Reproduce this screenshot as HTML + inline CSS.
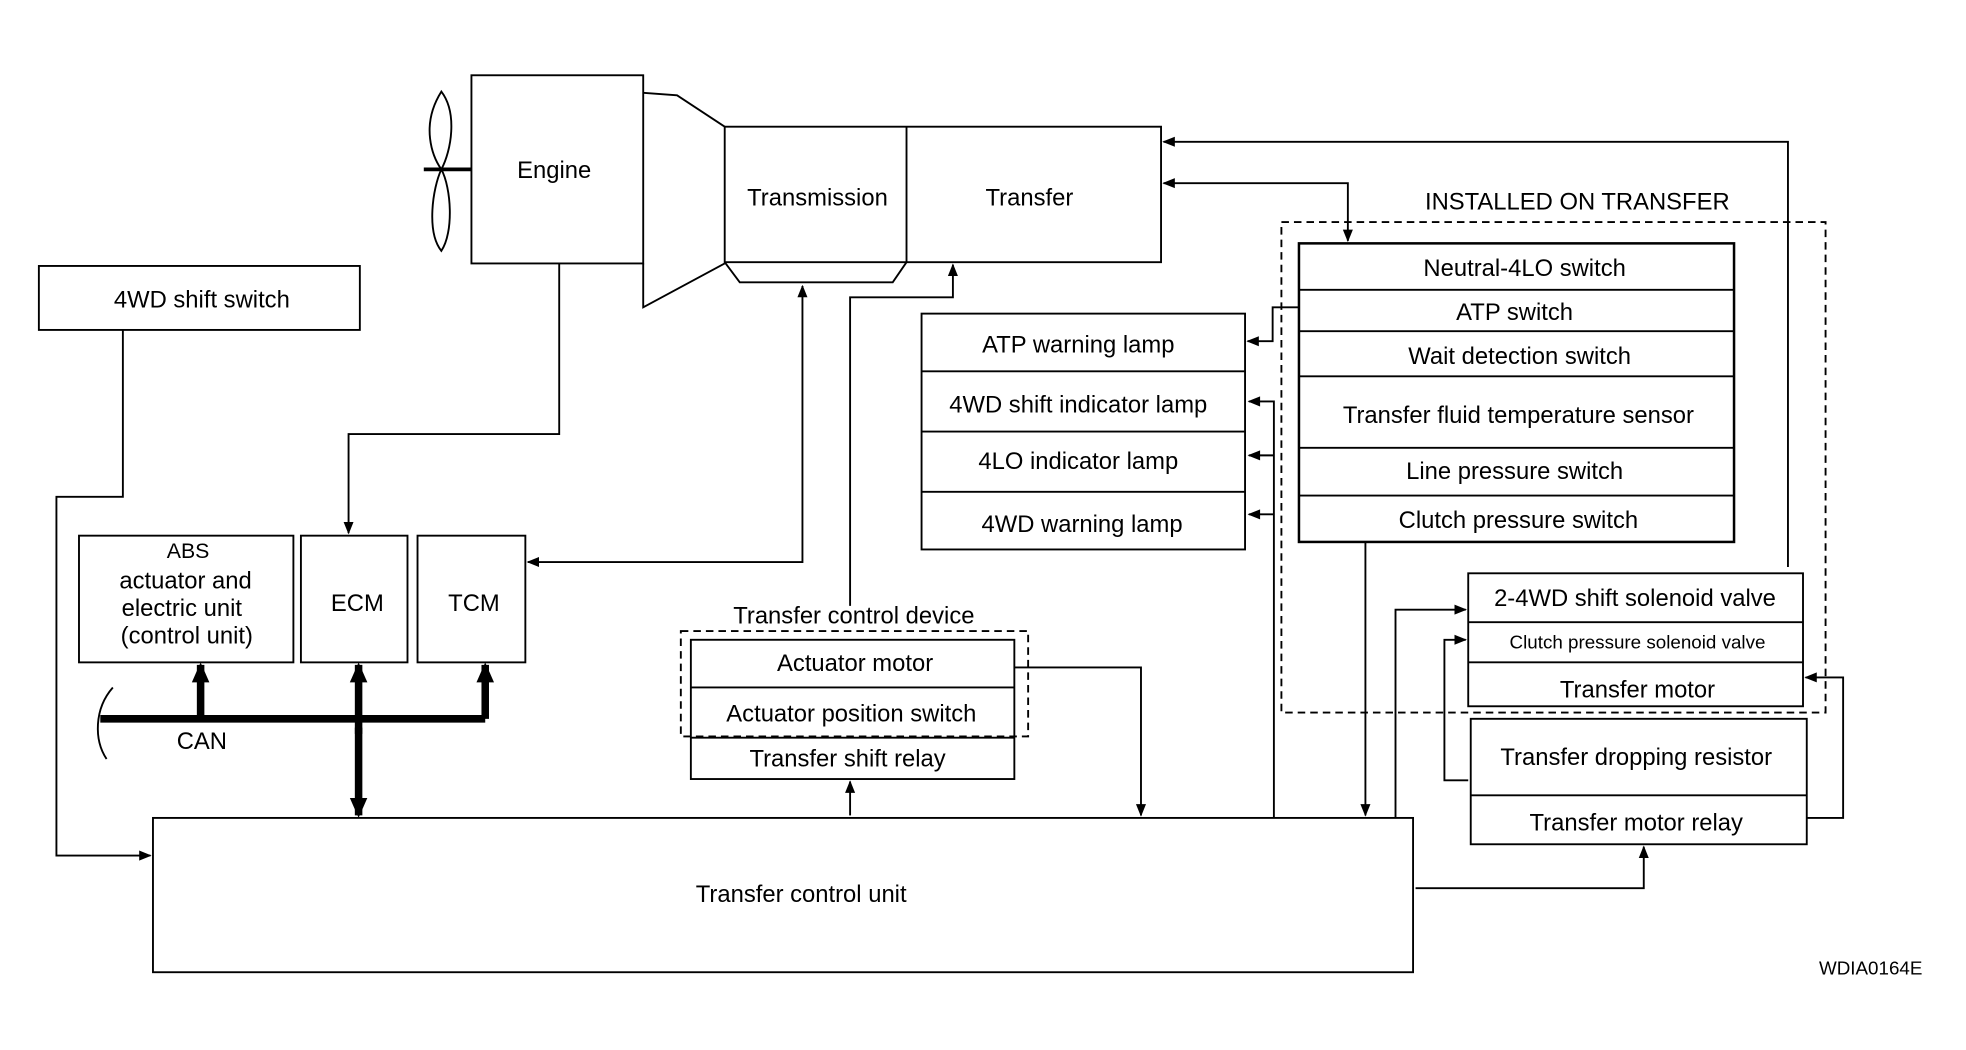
<!DOCTYPE html>
<html><head><style>html,body{margin:0;padding:0;background:#fff}svg{display:block}</style></head>
<body>
<svg width="1966" height="1050" viewBox="0 0 1568 837" preserveAspectRatio="none" xmlns="http://www.w3.org/2000/svg" font-family="Liberation Sans, sans-serif" font-size="19" fill="none" stroke="#000" stroke-width="1.5">
<defs>
<marker id="a" markerWidth="10" markerHeight="10" refX="9" refY="5" orient="auto-start-reverse" markerUnits="userSpaceOnUse"><path d="M0,1 L10,5 L0,9z" fill="#000" stroke="none"/></marker>
<marker id="b" markerWidth="16" markerHeight="16" refX="14" refY="8" orient="auto-start-reverse" markerUnits="userSpaceOnUse"><path d="M0,1 L16,8 L0,15z" fill="#000" stroke="none"/></marker>
</defs>
<rect x="376" y="60" width="137" height="150"/>
<path d="M352,73 C335,100 345,125 352,135 C345,150 340,185 352,200 C362,185 360,150 352,135 C360,120 365,90 352,73z"/>
<line x1="338" y1="135" x2="376" y2="135" stroke-width="3"/>
<path d="M513,74 L540,76 L578,101 M513,210 V245 L578,210"/>
<rect x="578" y="101" width="348" height="108"/>
<line x1="723" y1="101" x2="723" y2="209"/>
<path d="M578,209 L590,225 H712 L723,209"/>
<rect x="31" y="212" width="256" height="51"/>
<rect x="63" y="427" width="171" height="101"/>
<rect x="240" y="427" width="85" height="101"/>
<rect x="333" y="427" width="86" height="101"/>
<rect x="735" y="250" width="258" height="188"/>
<line x1="735" y1="296" x2="993" y2="296"/><line x1="735" y1="344" x2="993" y2="344"/><line x1="735" y1="392" x2="993" y2="392"/>
<rect x="1036" y="194" width="347" height="238" stroke-width="2"/>
<line x1="1036" y1="231" x2="1383" y2="231"/><line x1="1036" y1="264" x2="1383" y2="264"/><line x1="1036" y1="300" x2="1383" y2="300"/><line x1="1036" y1="357" x2="1383" y2="357"/><line x1="1036" y1="395" x2="1383" y2="395"/>
<rect x="1022" y="177" width="434" height="391" stroke-dasharray="6,4"/>
<rect x="1171" y="457" width="267" height="106"/>
<line x1="1171" y1="496" x2="1438" y2="496"/><line x1="1171" y1="528" x2="1438" y2="528"/>
<rect x="1173" y="573" width="268" height="100"/>
<line x1="1173" y1="634" x2="1441" y2="634"/>
<rect x="551" y="510" width="258" height="111"/>
<line x1="551" y1="548" x2="809" y2="548"/><line x1="551" y1="588" x2="809" y2="588"/>
<rect x="543" y="503" width="277" height="84" stroke-dasharray="6,4"/>
<rect x="122" y="652" width="1005" height="123"/>
<path d="M98,263 V396 H45 V682 H120" marker-end="url(#a)"/>
<path d="M446,210 V346 H278 V425" marker-end="url(#a)"/>
<path d="M640,228 V448 H421" marker-start="url(#a)" marker-end="url(#a)"/>
<path d="M678,483 V237 H760 V211" marker-end="url(#a)"/>
<path d="M678,650 V623" marker-end="url(#a)"/>
<path d="M809,532 H910 V650" marker-end="url(#a)"/>
<path d="M1426,452 V113 H928" marker-end="url(#a)"/>
<path d="M928,146 H1075 V192" marker-start="url(#a)" marker-end="url(#a)"/>
<path d="M1036,245 H1015 V272 H995" marker-end="url(#a)"/>
<path d="M1016,652 V320 H996 M1016,363 H996 M1016,410 H996"/>
<g fill="#000" stroke="none">
<path d="M995,320 L1005,316 L1005,324z"/>
<path d="M995,363 L1005,359 L1005,367z"/>
<path d="M995,410 L1005,406 L1005,414z"/>
</g>
<path d="M1089,432 V650" marker-end="url(#a)"/>
<path d="M1113,652 V486 H1169" marker-end="url(#a)"/>
<path d="M1171,622 H1152 V510 H1169" marker-end="url(#a)"/>
<path d="M1441,652 H1470 V540 H1440" marker-end="url(#a)"/>
<path d="M1129,708 H1311 V675" marker-end="url(#a)"/>
<path d="M80,573 H387" stroke-width="6"/>
<path d="M160,573 V530" stroke-width="6" marker-end="url(#b)"/>
<path d="M387,573 V530" stroke-width="6" marker-end="url(#b)"/>
<path d="M286,585 V530" stroke-width="6" marker-end="url(#b)"/>
<path d="M286,580 V650" stroke-width="6" marker-end="url(#b)"/>
<path d="M90,548 C75,565 75,590 85,605"/>
<g fill="#000" stroke="none" text-anchor="middle">
<text x="442" y="142">Engine</text>
<text x="652" y="164">Transmission</text>
<text x="821" y="164">Transfer</text>
<text x="161" y="245">4WD shift switch</text>
<text x="150" y="445" font-size="17">ABS</text>
<text x="148" y="469">actuator and</text>
<text x="145" y="491">electric unit</text>
<text x="149" y="513">(control unit)</text>
<text x="285" y="487">ECM</text>
<text x="378" y="487">TCM</text>
<text x="161" y="597">CAN</text>
<text x="860" y="281">ATP warning lamp</text>
<text x="860" y="329">4WD shift indicator lamp</text>
<text x="860" y="374">4LO indicator lamp</text>
<text x="863" y="424">4WD warning lamp</text>
<text x="1258" y="167">INSTALLED ON TRANSFER</text>
<text x="1216" y="220">Neutral-4LO switch</text>
<text x="1208" y="255">ATP switch</text>
<text x="1212" y="290">Wait detection switch</text>
<text x="1211" y="337">Transfer fluid temperature sensor</text>
<text x="1208" y="382">Line pressure switch</text>
<text x="1211" y="421">Clutch pressure switch</text>
<text x="1304" y="483">2-4WD shift solenoid valve</text>
<text x="1306" y="517" font-size="15">Clutch pressure solenoid valve</text>
<text x="1306" y="556">Transfer motor</text>
<text x="1305" y="610">Transfer dropping resistor</text>
<text x="1305" y="662">Transfer motor relay</text>
<text x="681" y="497">Transfer control device</text>
<text x="682" y="535">Actuator motor</text>
<text x="679" y="575">Actuator position switch</text>
<text x="676" y="611">Transfer shift relay</text>
<text x="639" y="719">Transfer control unit</text>
<text x="1492" y="777" font-size="15">WDIA0164E</text>
</g>
</svg>
</body></html>
